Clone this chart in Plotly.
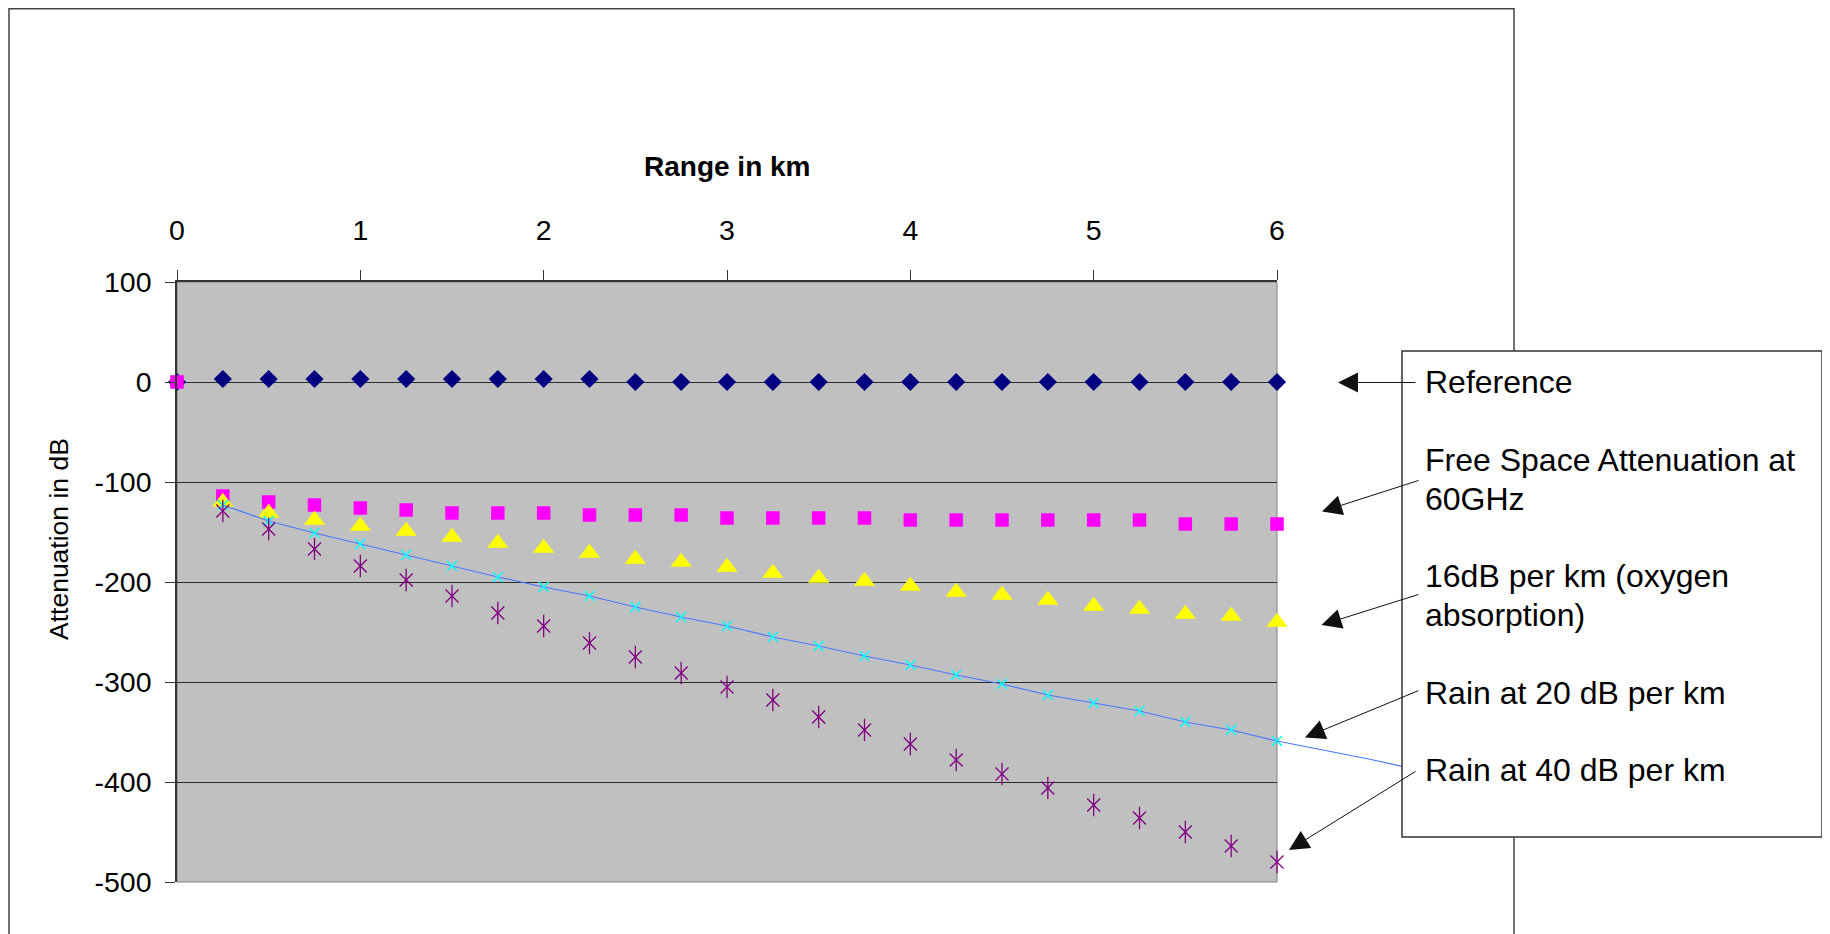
import plotly.graph_objects as go

# range in km (x) and attenuation in dB for each series
x_km = [0, 0.25, 0.5, 0.75, 1, 1.25, 1.5, 1.75, 2, 2.25, 2.5, 2.75, 3,
        3.25, 3.5, 3.75, 4, 4.25, 4.5, 4.75, 5, 5.25, 5.5, 5.75, 6]
reference_db = [0, 3, 3, 3, 3, 3, 3, 3, 3, 3, 0, 0, 0,
                0, 0, 0, 0, 0, 0, 0, 0, 0, 0, 0, 0]
free_space_db = [0, -114, -120, -123, -126, -128, -131, -131, -131, -133, -133, -133, -136,
                 -136, -136, -136, -138, -138, -138, -138, -138, -138, -142, -142, -142]
oxygen_db = [None, -120, -131, -138, -144, -149, -155, -161, -166, -171, -177, -180, -185,
             -191, -196, -199, -204, -210, -213, -218, -224, -227, -232, -234, -240]
rain20_db = [None, -123, -139, -151, -162, -173, -184, -195, -205, -214, -225, -235, -244,
             -255, -264, -274, -283, -293, -302, -313, -321, -329, -340, -348, -359]
rain40_db = [None, -129, -147, -167, -184, -198, -214, -231, -244, -261, -275, -291, -305,
             -318, -335, -348, -362, -378, -392, -406, -423, -436, -450, -464, -480]
# the rain 20 line runs on past 6 km, behind the label box
rain20_ext_km = [6, 6.25, 6.5, 6.75]
rain20_ext_db = [-359, -368, -377, -387]

x_ticks = [0, 1, 2, 3, 4, 5, 6]
y_ticks = [100, 0, -100, -200, -300, -400, -500]

labels = [
    ["Reference"],
    ["Free Space Attenuation at", "60GHz"],
    ["16dB per km (oxygen", "absorption)"],
    ["Rain at 20 dB per km"],
    ["Rain at 40 dB per km"],
]

W, H = 1830, 934
OFF = 8  # page margin around the plot div
FONT = "Liberation Sans, Arial, sans-serif"


def px(x):
    return (x - OFF) / W


def py(y):
    return 1 - (y - OFF) / H


plot_l, plot_r, plot_t, plot_b = 177, 1277, 282, 882
box_l, box_r, box_t, box_b = 1402, 1822, 351, 837
km_per_px = 6 / (plot_r - plot_l)

fig = go.Figure()

fig.add_trace(go.Scatter(x=x_km, y=reference_db, mode="markers", cliponaxis=False,
                         marker=dict(symbol="diamond", size=14, color="#000080")))
fig.add_trace(go.Scatter(x=x_km, y=free_space_db, mode="markers", cliponaxis=False,
                         marker=dict(symbol="square", size=13.5, color="#FF00FF")))
fig.add_trace(go.Scatter(x=x_km, y=oxygen_db, mode="markers", cliponaxis=False,
                         marker=dict(symbol="triangle-up", size=18.5, color="#FFFF00")))
fig.add_trace(go.Scatter(x=x_km, y=rain20_db, mode="lines+markers", cliponaxis=False,
                         line=dict(color="#4a78ff", width=1.2),
                         marker=dict(symbol="x-thin-open", size=10, color="#00FFFF",
                                     line=dict(color="#00FFFF", width=1.5))))
fig.add_trace(go.Scatter(x=x_km, y=rain40_db, mode="markers", cliponaxis=False,
                         marker=dict(symbol="x-thin-open", size=13, color="#800080",
                                     line=dict(color="#800080", width=1.3))))
fig.add_trace(go.Scatter(x=x_km, y=rain40_db, mode="markers", cliponaxis=False,
                         marker=dict(symbol="line-ns-open", size=16, color="#800080",
                                     line=dict(color="#800080", width=1.3))))
fig.add_trace(go.Scatter(x=rain20_ext_km, y=rain20_ext_db, mode="lines",
                         xaxis="x2", yaxis="y2",
                         line=dict(color="#4a78ff", width=1.2)))

shapes = [
    # grey plot area
    dict(type="rect", xref="x domain", yref="y domain", x0=0, x1=1, y0=0, y1=1,
         fillcolor="#C0C0C0", line=dict(color="#808080", width=1), layer="below"),
    # chart border
    dict(type="rect", xref="paper", yref="paper", x0=px(9), x1=px(1514),
         y0=py(8.8), y1=py(960),
         line=dict(color="#444444", width=1.5), fillcolor="rgba(0,0,0,0)", layer="below"),
    # label box
    dict(type="rect", xref="paper", yref="paper", x0=px(box_l), x1=px(box_r),
         y0=py(box_t), y1=py(box_b), fillcolor="white",
         line=dict(color="#333333", width=1.5), layer="above"),
]

annotations = [
    dict(text="<b>Range in km</b>", xref="paper", yref="paper", x=px(727), y=py(167),
         xanchor="center", yanchor="middle", showarrow=False,
         font=dict(family=FONT, size=28, color="black")),
    dict(text="Attenuation in dB", xref="paper", yref="paper", x=px(59), y=py(539),
         xanchor="center", yanchor="middle", textangle=-90, showarrow=False,
         font=dict(family=FONT, size=26.5, color="black")),
]

line_y = [[381.7], [459.5, 498.7], [576, 615], [692.5], [769.5]]
for lines, ys in zip(labels, line_y):
    for t, yy in zip(lines, ys):
        annotations.append(dict(text=t, xref="paper", yref="paper", x=px(1423), y=py(yy),
                                xanchor="left", yanchor="middle", showarrow=False,
                                font=dict(family=FONT, size=32, color="black")))

arrows = [((1417, 382.5), (1338, 382.5)),
          ((1420, 480), (1322, 511.5)),
          ((1420, 594), (1321.5, 625)),
          ((1420, 690), (1305, 737.5)),
          ((1417, 770.5), (1289, 850))]
for (tx, ty), (hx, hy) in arrows:
    annotations.append(dict(text="", xref="paper", yref="paper", x=px(hx), y=py(hy),
                            ax=tx - hx, ay=ty - hy, showarrow=True, arrowhead=2,
                            arrowsize=4, arrowwidth=1, arrowcolor="#111111", standoff=0))

fig.update_layout(
    width=W, height=H, margin=dict(l=0, r=0, t=0, b=0, pad=0, autoexpand=False),
    paper_bgcolor="white", plot_bgcolor="rgba(0,0,0,0)",
    showlegend=False, shapes=shapes, annotations=annotations,
    font=dict(family=FONT, size=28.5, color="black"),
    xaxis=dict(domain=[px(plot_l), px(plot_r)], range=[0, 6], side="top",
               tickvals=x_ticks, ticktext=[str(v) for v in x_ticks],
               ticks="outside", ticklen=10, tickcolor="#333333",
               showline=True, linecolor="#333333", linewidth=1.5, automargin=False,
               showgrid=False, zeroline=False, ticklabelstandoff=19,
               tickfont=dict(family=FONT, size=28.5, color="black")),
    yaxis=dict(domain=[py(plot_b), py(plot_t)], range=[-500, 100],
               tickvals=y_ticks, ticktext=[str(v) for v in y_ticks],
               ticks="outside", ticklen=10, tickcolor="#333333",
               showline=True, linecolor="#333333", linewidth=1.5, automargin=False,
               showgrid=True, gridcolor="#2a2a2a", gridwidth=1.3, zeroline=False,
               ticklabelstandoff=8,
               tickfont=dict(family=FONT, size=28.5, color="black")),
    xaxis2=dict(domain=[px(plot_r), px(box_l)], automargin=False,
                range=[6, 6 + (box_l - plot_r) * km_per_px], anchor="y2", visible=False),
    yaxis2=dict(domain=[py(plot_b), py(plot_t)], range=[-500, 100], anchor="x2",
                automargin=False, visible=False, showgrid=False),
)

fig.write_html("out.html")
